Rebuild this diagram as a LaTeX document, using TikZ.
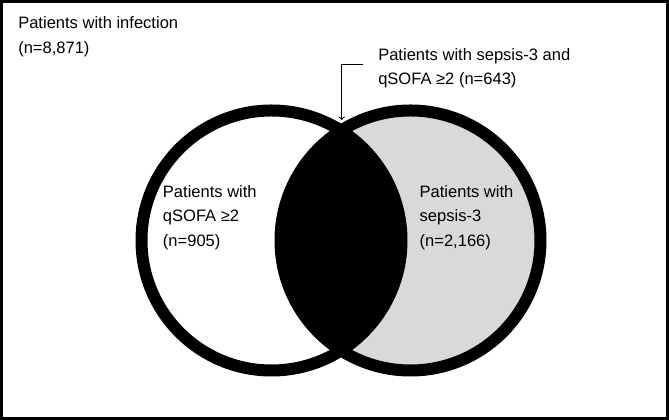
\documentclass[tikz,border=0pt]{standalone}
\usepackage{fontspec}
\setmainfont{Liberation Sans}

\begin{document}
\begin{tikzpicture}[x=0.75pt, y=0.75pt,
  lbl/.style={anchor=base west, inner sep=0pt, align=left, font=\fontsize{12.4}{18.4}\selectfont},
  ring/.style={line width=9pt}]
\useasboundingbox (0,0) rectangle (669,420);
\draw [line width=2.25pt] (1.5,1.5) rectangle (667.5,418.5);

% the two sets
\coordinate (cq) at (271.5,179.5);
\coordinate (cs) at (410.5,179.5);
\fill [gray!30] (cs) circle (97.5pt);
\begin{scope}
\clip (cq) circle (97.5pt);
\fill [black] (cs) circle (97.5pt);
\end{scope}
\draw [ring] (cq) circle (97.5pt);
\draw [ring] (cs) circle (97.5pt);

% labels (placed at the baseline of their last line)
\node [lbl] (infection) at (18,366.7) {Patients with infection\\(n=8,871)};
\node [lbl] (both) at (378,335) {Patients with sepsis-3 and\\qSOFA ≥2 (n=643)};
\node [lbl] (qsofa) at (162.7,173.5) {Patients with\\qSOFA ≥2\\(n=905)};
\node [lbl] (sepsis) at (419.4,173.5) {Patients with\\sepsis-3\\(n=2,166)};

% pointer to the overlap
\coordinate (elbow) at (362.7,355.7);
\coordinate (lens) at (341.7,300);
\draw [->, line width=0.8pt] (elbow) -| (lens);
\end{tikzpicture}
\end{document}
